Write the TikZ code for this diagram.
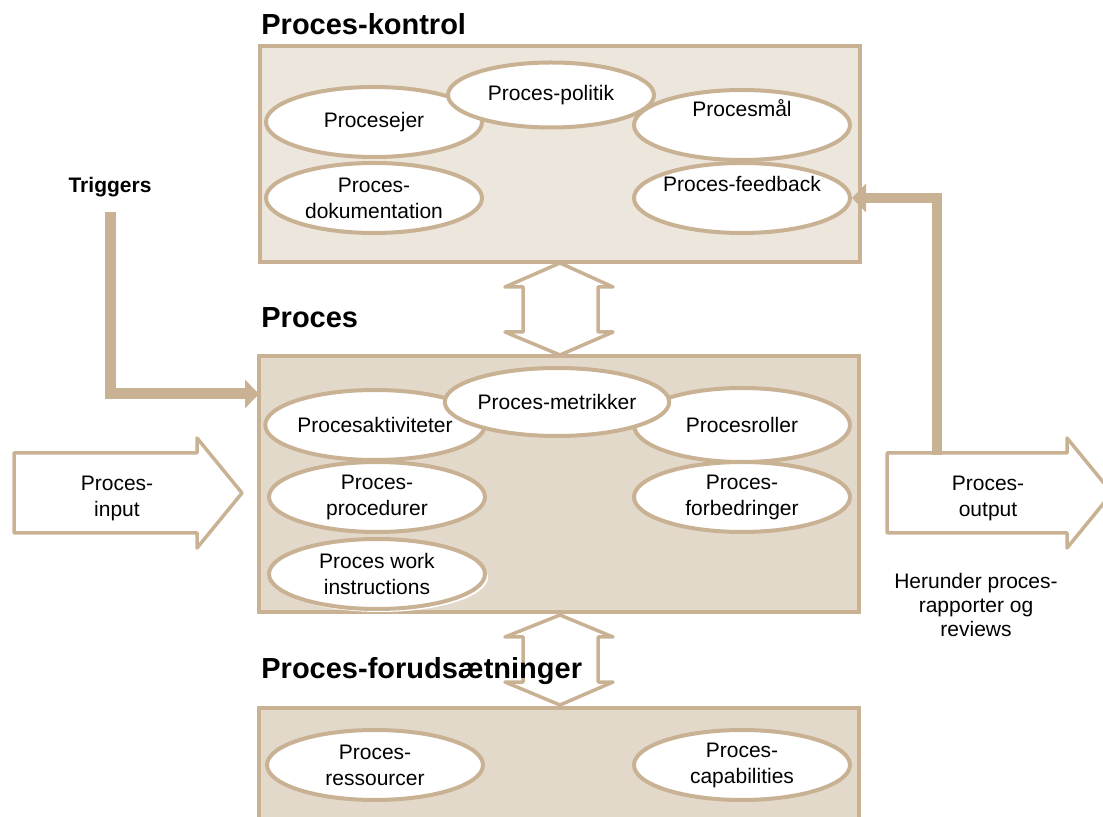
\documentclass[tikz,border=0pt]{standalone}
\usepackage{fontspec}
\setmainfont{Liberation Sans}
\usetikzlibrary{shapes.geometric,arrows.meta,shadows}
\definecolor{sand}{RGB}{201,178,148}
\definecolor{paleA}{RGB}{237,230,221}
\definecolor{paleB}{RGB}{227,217,202}
\newcommand\plaintxt{\fontsize{10.5}{13}\selectfont}
\newcommand\headtxt{\fontsize{14.5}{17}\selectfont\bfseries}
\begin{document}
\begin{tikzpicture}[x=0.5pt,y=-0.5pt,%
  every node/.style={font=\plaintxt,align=center},%
  panel/.style={rectangle,draw=sand,line width=1.6pt,minimum width=300pt},%
  heading/.style={anchor=base west,font=\headtxt,inner sep=0pt},%
  bubble/.style={ellipse,draw=sand,line width=2pt,fill=white,%
  inner sep=0pt,minimum width=108pt,minimum height=35pt},%
  hollow/.style={draw=sand,line width=1.75pt,fill=white,line join=round},%
  fat/.style={draw=sand,line width=5.5pt,-{Triangle[length=7pt,width=14pt]}}]

  \useasboundingbox (0,0) rectangle (1103,817);
  \clip (0,0) rectangle (1103,817);

  % boxes
  \node [panel,fill=paleA,minimum height=108pt] (kontrol) at (560,154) {};
  \node [panel,fill=paleB,minimum height=128pt] (proces) at (559,484) {};
  \node [panel,fill=paleB,minimum height=96pt] (forud) at (559,804) {};

  % double arrows
  \draw [hollow] (560,263) -- (613,287) -- (598,287) -- (598,332) -- (613,332)
    -- (560,355) -- (505,332) -- (523,332) -- (523,287) -- (505,287) -- cycle;
  \draw [hollow] (560,615) -- (613,637) -- (598,637) -- (598,682) -- (613,682)
    -- (560,705) -- (505,682) -- (523,682) -- (523,637) -- (505,637) -- cycle;

  \node [heading] (kontrol-title) at (261,35) {Proces-kontrol};
  \node [heading] (proces-title) at (261,328) {Proces};
  \node [heading] (forud-title) at (261,678) {Proces-forudsætninger};

  % top box
  \node [bubble] (ejer) at (374,122) {Procesejer};
  \node [bubble,label={[yshift=8.5pt]center:Procesmål}] (maal) at (742,125) {};
  \node [bubble,minimum width=103pt,minimum height=32.5pt] (politik) at (551,95) {Proces-politik};
  \node [bubble] (dok) at (374,198) {Proces-\\dokumentation};
  \node [bubble,label={[yshift=7pt]center:Proces-feedback}] (feedback) at (742,198) {};

  % middle box
  \node [bubble] (aktiv) at (375,425) {Procesaktiviteter};
  \node [bubble,minimum height=37pt] (roller) at (742,425) {Procesroller};
  \node [bubble,minimum width=107pt,minimum height=34pt] (metrik) at (557,402) {Proces-metrikker};
  \node [bubble] (proced) at (377,497) {Proces-\\procedurer};
  \node [bubble] (forbed) at (742,497) {Proces-\\forbedringer};
  \node [bubble,drop shadow={shadow xshift=1.5pt,shadow yshift=-1.5pt,fill=white,opacity=1}]
    (work) at (377,574) {Proces work\\instructions};

  % bottom box
  \node [bubble] (ress) at (375,765) {Proces-\\ressourcer};
  \node [bubble] (capab) at (742,765) {Proces-\\capabilities};

  % input / output
  \draw [hollow] (14,453) -- (197,453) -- (197,438) -- (242,493) -- (197,548)
    -- (197,533) -- (14,533) -- cycle;
  \node (input) at (117,498) {Proces-\\input};
  \draw [hollow] (887,453) -- (1067,453) -- (1067,438) -- (1112,493) -- (1067,548)
    -- (1067,533) -- (887,533) -- cycle;
  \node (output) at (988,498) {Proces-\\output};
  \node [font=\fontsize{10.5}{12}\selectfont] (herunder) at (976,605)
    {Herunder proces-\\rapporter og\\reviews};

  % triggers and feedback
  \node [font=\fontsize{10.5}{13}\selectfont\bfseries] (triggers) at (110,187) {Triggers};
  \coordinate (trig-top) at (110,212);
  \coordinate (trig-in) at (259,394);
  \draw [fat] (trig-top) |- (trig-in);
  \coordinate (fb-foot) at (937,455);
  \draw [fat,line width=5pt] (fb-foot) |- (feedback.east);
\end{tikzpicture}
\end{document}
